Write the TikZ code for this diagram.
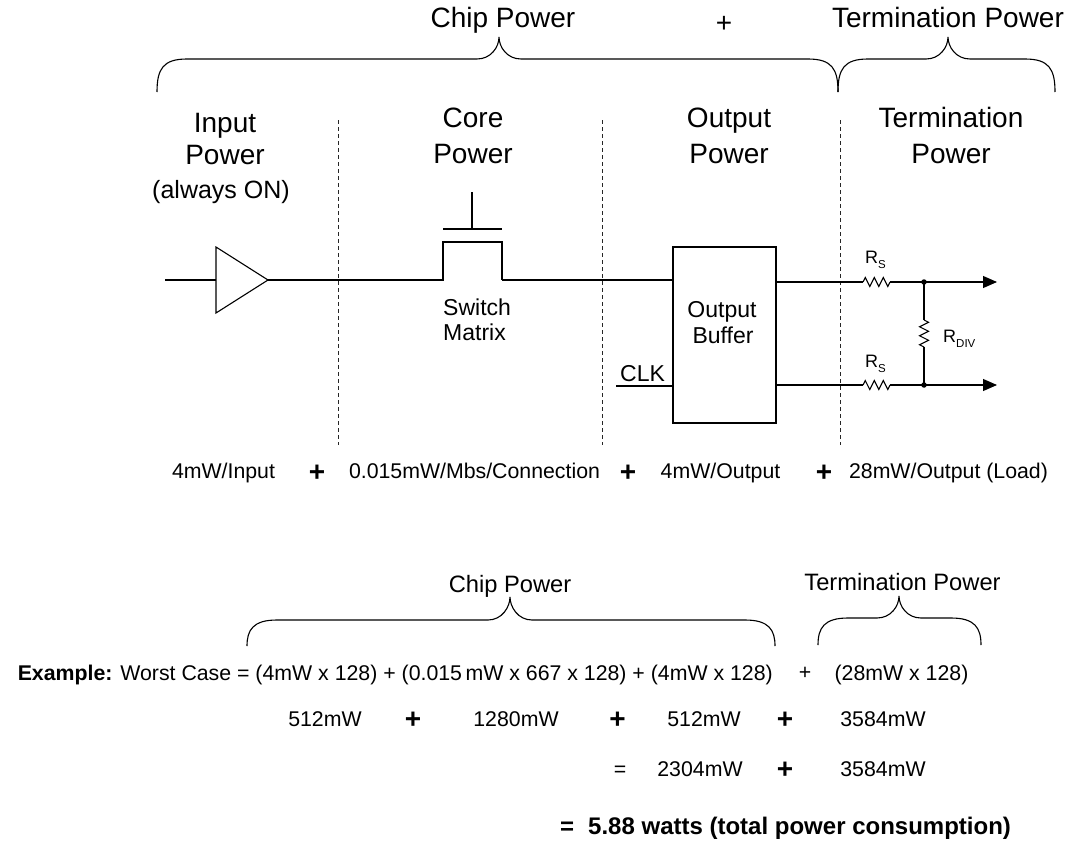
\documentclass[tikz,border=0pt]{standalone}
\usepackage{fontspec}
\setmainfont{Liberation Sans}
\usetikzlibrary{arrows.meta}
\newcommand\mybrace[6]{%
\draw[wire] (#1,#4) .. controls (#1,#5+10) and (#1+6,#5) .. (#1+30,#5) -- (#3-22,#5) .. controls (#3-8,#5) and (#3,#6+10) .. (#3,#6) .. controls (#3,#6+10) and (#3+8,#5) .. (#3+22,#5) -- (#2-30,#5) .. controls (#2-6,#5) and (#2,#5+10) .. (#2,#4);}
\newcommand\sub[1]{\raisebox{-5pt}{\fontsize{11.5}{13}\selectfont #1}}
\begin{document}
\begin{tikzpicture}[x=1pt,y=-1pt,
  wire/.style={line width=1.1pt,black},
  divider/.style={line width=0.9pt,dash pattern=on 4pt off 3pt,black!85},
  txt/.style={inner sep=0,anchor=base},
  toplbl/.style={txt,font=\fontsize{28}{32}\selectfont},
  hdr/.style={txt,font=\fontsize{28}{32}\selectfont},
  subl/.style={txt,font=\fontsize{25}{28}\selectfont},
  lbl/.style={txt,font=\fontsize{23}{26}\selectfont},
  small/.style={txt,font=\fontsize{18}{20}\selectfont},
  eq/.style={txt,font=\fontsize{21.3}{24}\selectfont},
  mid/.style={txt,font=\fontsize{23.7}{26}\selectfont},
  bplus/.style={inner sep=0,font=\fontsize{28}{30}\selectfont\bfseries},
  beq/.style={txt,font=\fontsize{24}{26}\selectfont\bfseries},
  arr/.style={wire,-{Triangle[length=14pt,width=12pt]}},
  res/.pic={\draw[wire] (0,0) -- (2.25,-4.5) -- (6.75,4.5) -- (11.25,-4.5) -- (15.75,4.5) -- (20.25,-4.5) -- (24.75,4.5) -- (27,0);},
  dot/.style={circle,fill=black,inner sep=0,minimum size=5.5pt}]
\useasboundingbox (0,0) rectangle (1073,843);
\fill[white] (0,0) rectangle (1073,843);

% top labels and braces
\node[toplbl] (chipT) at (503,28) {Chip Power};
\node[inner sep=0,font=\fontsize{28}{32}\selectfont] (plusT) at (724,24.5) {+};
\node[toplbl] (termT) at (948,28) {Termination Power};
\mybrace{157}{838}{499}{92}{59}{37}
\mybrace{838}{1055}{948}{92}{59}{37}

% headers
\node[hdr] (hIn1) at (225,132) {Input};
\node[hdr] (hIn2) at (225,164) {Power};
\node[subl] (hOn) at (221,198) {(always ON)};
\node[hdr] (hCore1) at (473,127) {Core};
\node[hdr] (hCore2) at (473,163) {Power};
\node[hdr] (hOut1) at (729,127) {Output};
\node[hdr] (hOut2) at (729,163) {Power};
\node[hdr] (hTerm1) at (951,127) {Termination};
\node[hdr] (hTerm2) at (951,163) {Power};

% dividers
\coordinate (d1a) at (338,120); \coordinate (d1b) at (338,445);
\coordinate (d2a) at (602,120); \coordinate (d2b) at (602,445);
\coordinate (d3a) at (840,120); \coordinate (d3b) at (840,445);
\draw[divider] (d1a) -- (d1b);
\draw[divider] (d2a) -- (d2b);
\draw[divider] (d3a) -- (d3b);

% input buffer
\coordinate (inA) at (165,280);
\coordinate (bufL) at (216,280);
\coordinate (bufT) at (216,247);
\coordinate (bufB) at (216,313);
\coordinate (bufR) at (268,280);
\draw[wire] (inA) -- (bufL);
\draw[wire,line join=miter] (bufT) -- (bufR) -- (bufB) -- cycle;

% switch
\coordinate (swL) at (443,280);
\coordinate (swLt) at (443,242);
\coordinate (swRt) at (502,242);
\coordinate (swR) at (502,280);
\draw[wire] (bufR) -- (swL) -- (swLt) -- (swRt) -- (swR);
\coordinate (gL) at (443,229);
\coordinate (gR) at (502,229);
\coordinate (gM) at (472,229);
\coordinate (gTop) at (472,192);
\draw[wire] (gL) -- (gR);
\draw[wire] (gTop) -- (gM);
\node[lbl,anchor=base west] (sw1) at (443,315) {Switch};
\node[lbl,anchor=base west] (sw2) at (443,340) {Matrix};

% output buffer
\node[draw,wire,minimum width=103pt,minimum height=176pt,inner sep=0] (obuf) at (724.5,335) {};
\node[lbl] (ob1) at (722,317) {Output};
\node[lbl] (ob2) at (723,343) {Buffer};
\draw[wire] (swR) -- (obuf.west |- swR);
\coordinate (clkA) at (616,386);
\draw[wire] (clkA) -- (clkA -| obuf.west);
\node[lbl,anchor=base west] (clk) at (620,381) {CLK};

% termination
\coordinate (r1a) at (863,282);
\coordinate (r1b) at (890,282);
\coordinate (r2a) at (863,385);
\coordinate (r2b) at (890,385);
\node[dot] (dt1) at (924,282) {};
\node[dot] (dt2) at (924,385) {};
\coordinate (a1) at (997,282);
\coordinate (a2) at (997,385);
\coordinate (rdA) at (924,320);
\coordinate (rdB) at (924,347);
\draw[wire] (obuf.east |- r1a) -- (r1a);
\pic at (r1a) {res};
\draw[wire] (r1b) -- (dt1.center);
\draw[arr] (dt1.center) -- (a1);
\draw[wire] (obuf.east |- r2a) -- (r2a);
\pic at (r2a) {res};
\draw[wire] (r2b) -- (dt2.center);
\draw[arr] (dt2.center) -- (a2);
\draw[wire] (dt1.center) -- (rdA);
\pic[rotate=-90] at (rdA) {res};
\draw[wire] (rdB) -- (dt2.center);
\node[small,anchor=base west] (rs1) at (865,263) {R\sub{S}};
\node[small,anchor=base west] (rs2) at (865,367) {R\sub{S}};
\node[small,anchor=base west] (rdiv) at (943,342) {R\sub{DIV}};

% per-unit labels
\node[eq] (pIn) at (223.5,478) {4mW/Input};
\node[bplus] (pp1) at (317,473) {+};
\node[eq] (pCore) at (474.5,478) {0.015mW/Mbs/Connection};
\node[bplus] (pp2) at (628,473) {+};
\node[eq] (pOut) at (720.5,478) {4mW/Output};
\node[bplus] (pp3) at (824,473) {+};
\node[eq] (pTerm) at (948.5,478) {28mW/Output (Load)};

% example
\node[mid] (chipB) at (510,592) {Chip Power};
\node[mid] (termB) at (902.5,590) {Termination Power};
\mybrace{247}{775}{510}{646}{620}{597}
\mybrace{818}{981}{899}{645}{618}{596}
\node[eq,anchor=base east] (ex) at (773,680) {\textbf{Example:} Worst Case = (4mW x 128) + (0.015\,mW x 667 x 128) + (4mW x 128)};
\node[inner sep=0,font=\fontsize{21.3}{24}\selectfont] (exp) at (805,673) {+};
\node[eq] (exT) at (901.5,680) {(28mW x 128)};

\node[eq] (v1) at (325,726) {512mW};
\node[bplus] (q1) at (413,720) {+};
\node[eq] (v2) at (516,726) {1280mW};
\node[bplus] (q2) at (617.5,720) {+};
\node[eq] (v3) at (704,726) {512mW};
\node[bplus] (q3) at (785,720) {+};
\node[eq] (v4) at (883,726) {3584mW};

\node[eq] (w0) at (620,776) {=};
\node[eq] (w1) at (700,776) {2304mW};
\node[bplus] (w2) at (785,770) {+};
\node[eq] (w3) at (883,776) {3584mW};

\node[beq,anchor=base west] (tot) at (560,834) {=\hspace{14pt}5.88 watts (total power consumption)};
\end{tikzpicture}
\end{document}
